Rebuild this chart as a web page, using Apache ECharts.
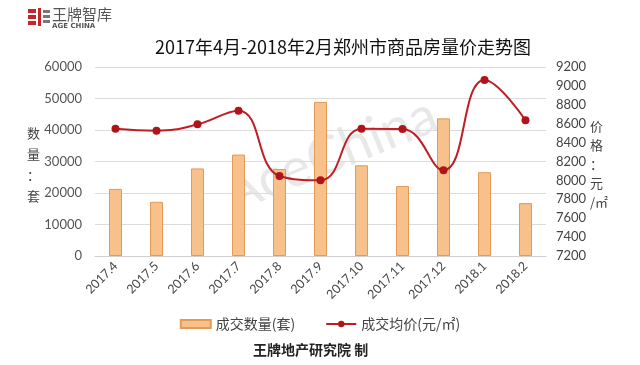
<!DOCTYPE html>
<html><head><meta charset="utf-8">
<script src="https://cdn.jsdelivr.net/npm/echarts@6/dist/echarts.min.js"></script>
<style>html,body{margin:0;padding:0;background:#fff}#c{width:640px;height:365px}</style>
</head><body><div id="c"></div>
<script>
const categories = ['2017.4','2017.5','2017.6','2017.7','2017.8','2017.9','2017.10','2017.11','2017.12','2018.1','2018.2'];
const volume = [21300, 17200, 27800, 32200, 27600, 48900, 28800, 22200, 43700, 26600, 16800];
const price = [8547, 8526, 8593, 8738, 8047, 8001, 8547, 8544, 8107, 9062, 8636];
const leftTicks = [0, 60000, 10000];
const rightTicks = [7200, 9200, 200];

const chart = echarts.init(document.getElementById('c'));
const font = 'Lato, "Noto Sans CJK SC", sans-serif';
const cjk = '"Noto Sans CJK SC", sans-serif';
chart.setOption({
  animation: false,
  textStyle: { fontFamily: font },
  title: {
    text: '2017年4月-2018年2月郑州市商品房量价走势图',
    left: 338, top: 33, textAlign: 'center',
    textStyle: { fontSize: 18, fontWeight: 'normal', color: '#111', fontFamily: cjk }
  },
  grid: { left: 95, right: 94, top: 67, bottom: 109 },
  legend: {
    bottom: 29, left: 'center', itemWidth: 30, itemHeight: 8, itemGap: 30,
    textStyle: { fontSize: 14, color: '#444', fontFamily: cjk },
    data: [
      { name: '成交数量(套)', icon: 'rect' },
      { name: '成交均价(元/㎡)' }
    ]
  },
  xAxis: {
    type: 'category', data: categories,
    axisLine: { lineStyle: { color: '#d0d0d0' } },
    axisTick: { show: false },
    axisLabel: { rotate: 45, fontSize: 12.5, color: '#444', margin: 8 }
  },
  yAxis: [
    {
      type: 'value', min: leftTicks[0], max: leftTicks[1], interval: leftTicks[2],
      axisLine: { show: false }, axisTick: { show: false },
      axisLabel: { fontSize: 13, color: '#555', margin: 13, formatter: v => String(v) },
      splitLine: { lineStyle: { color: '#dcdcdc' } }
    },
    {
      type: 'value', min: rightTicks[0], max: rightTicks[1], interval: rightTicks[2],
      axisLine: { show: false }, axisTick: { show: false },
      axisLabel: { fontSize: 13, color: '#444', margin: 10, formatter: v => String(v) },
      splitLine: { show: false }
    }
  ],
  graphic: [
    { type: 'text', x: 330, y: 155, rotation: Math.PI * 22 / 180, z: 0,
      style: { text: 'AceChina', fontSize: 54, fill: 'rgba(190,190,190,0.35)', fontFamily: 'Lato, sans-serif',
               align: 'center', verticalAlign: 'middle', textAlign: 'center', textVerticalAlign: 'middle' } },
    { type: 'text', left: 27, top: 123, style: { text: '数\n量\n：\n套', fontSize: 13, lineHeight: 21, fill: '#444', fontFamily: cjk } },
    { type: 'text', left: 590, top: 117, style: { text: '价\n格\n：\n元\n/㎡', fontSize: 13, lineHeight: 19, fill: '#444', fontFamily: cjk } },
    // logo
    { type: 'rect', shape: { x: 28, y: 9, width: 8, height: 4 }, style: { fill: '#c8242b' } },
    { type: 'rect', shape: { x: 28, y: 15, width: 8, height: 4 }, style: { fill: '#c8242b' } },
    { type: 'rect', shape: { x: 28, y: 21, width: 8, height: 4 }, style: { fill: '#c8242b' } },
    { type: 'rect', shape: { x: 38, y: 8, width: 3, height: 18 }, style: { fill: '#c8242b' } },
    { type: 'rect', shape: { x: 43, y: 10, width: 7, height: 3 }, style: { fill: '#777' } },
    { type: 'rect', shape: { x: 43, y: 15, width: 7, height: 3 }, style: { fill: '#777' } },
    { type: 'rect', shape: { x: 43, y: 20, width: 7, height: 3 }, style: { fill: '#777' } },
    { type: 'text', left: 52, top: 7, style: { text: '王牌智库', fontSize: 15, fill: '#555', fontFamily: cjk } },
    { type: 'text', left: 52, top: 23, style: { text: 'AGE CHINA', fontSize: 7, fontWeight: 'bold', fill: '#555', fontFamily: 'DejaVu Sans, sans-serif' } },
    { type: 'text', left: 253, top: 343, style: { text: '王牌地产研究院 制', fontSize: 14, fontWeight: 'bold', fill: '#222', fontFamily: cjk } }
  ],
  series: [
    {
      name: '成交数量(套)', type: 'bar', data: volume, barWidth: 13, yAxisIndex: 0,
      itemStyle: { color: '#F8C08A', borderColor: '#E39A55', borderWidth: 1 }
    },
    {
      name: '成交均价(元/㎡)', type: 'line', data: price, yAxisIndex: 1, smooth: 0.45,
      symbol: 'circle', symbolSize: 8,
      lineStyle: { color: '#BE1E24', width: 2 },
      itemStyle: { color: '#B0141A' }
    }
  ]
});
</script></body></html>
